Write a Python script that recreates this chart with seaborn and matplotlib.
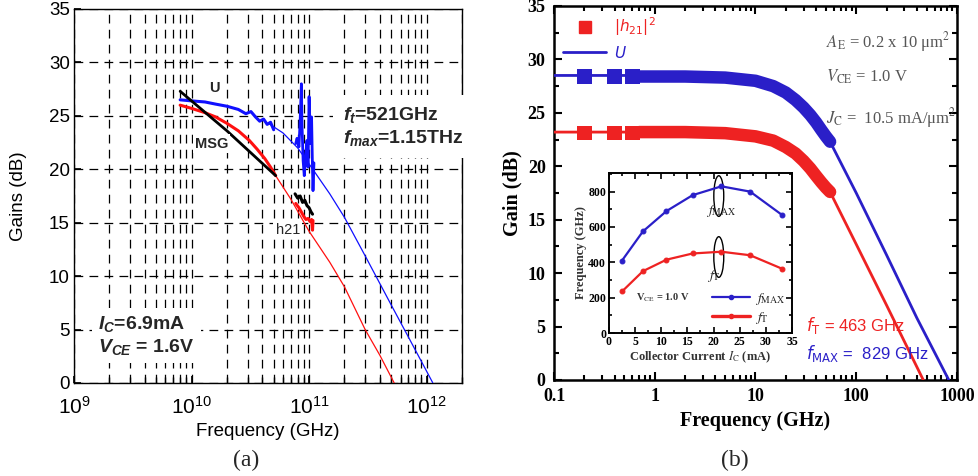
import numpy as np
import pandas as pd
import matplotlib.pyplot as plt
import seaborn as sns
from matplotlib.lines import Line2D
from matplotlib.patches import Ellipse
from matplotlib.ticker import (FixedLocator, FixedFormatter, LogLocator,
                               MultipleLocator, NullFormatter)

# ---------------- data, panel (a) (frequency in Hz) ----------------
u_meas_f = [8e9, 1e10, 1.3e10, 1.6e10, 2e10, 2.5e10, 2.9e10, 3.2e10, 3.5e10,
            3.8e10, 4.1e10, 4.4e10, 4.7e10, 5.0e10]
u_meas = [26.5, 26.4, 26.3, 26.1, 25.9, 25.6, 25.2, 25.4, 24.9,
          24.5, 24.7, 24.2, 24.4, 23.7]
u_spike_f = [7.7e10, 7.9e10, 8.2e10, 8.4e10, 8.6e10, 8.7e10, 8.9e10, 9.1e10,
             9.4e10, 9.6e10, 9.8e10, 1.0e11, 1.03e11, 1.05e11, 1.07e11,
             1.08e11, 1.1e11]
u_spike = [22.4, 22.9, 22.1, 24.6, 28.0, 24.3, 20.8, 19.4,
           21.5, 22.7, 20.2, 26.8, 22.4, 24.9, 19.9, 18.0, 20.6]
u_fit_f = [4.5e10, 6e10, 8e10, 1e11, 1.5e11, 2e11, 3e11, 5e11, 7e11, 1e12, 1.13e12]
u_fit = [24.3, 23.4, 22.0, 20.5, 17.7, 15.5, 11.9, 7.3, 4.3, 1.1, 0.0]

h_meas_f = [8e9, 1e10, 1.3e10, 1.6e10, 2e10, 2.5e10, 3.1e10, 3.6e10, 4.2e10,
            4.7e10, 5.2e10]
h_meas = [26.0, 25.7, 25.3, 24.9, 24.3, 23.6, 22.7, 21.9, 21.0, 20.2, 19.4]
h_spike_f = [7.7e10, 8.2e10, 8.6e10, 9e10, 9.4e10, 9.8e10, 1.02e11, 1.05e11,
             1.07e11, 1.08e11]
h_spike = [16.8, 16.4, 16.0, 15.6, 15.3, 15.4, 15.1, 15.3, 14.3, 15.2]
h_fit_f = [5.2e10, 7e10, 1e11, 1.5e11, 2e11, 3e11, 4e11, 5.3e11]
h_fit = [19.4, 17.2, 14.2, 11.3, 9.0, 5.0, 2.6, 0.0]

msg_f = [8e9, 2e10, 5.2e10]
msg = [27.3, 23.6, 19.4]
msg_spike_f = [7.6e10, 8e10, 8.4e10, 8.8e10, 9.2e10, 9.6e10, 1e11, 1.04e11, 1.07e11]
msg_spike = [17.7, 17.3, 17.5, 16.9, 17.1, 16.6, 16.4, 16.0, 15.8]

# ---------------- data, panel (b) (frequency in GHz) ----------------
sq_f = [0.2, 0.4, 0.6]
u_sq = [28.4, 28.4, 28.4]
h_sq = [23.1, 23.1, 23.1]
band_f = [0.7, 1, 2, 5, 10, 15, 20, 25, 30, 35, 40, 45, 50, 55]
u_band = [28.4, 28.4, 28.4, 28.3, 28.0, 27.5, 26.9, 26.2, 25.5, 24.8, 24.1, 23.4, 22.8, 22.3]
h_band = [23.2, 23.2, 23.2, 23.1, 22.8, 22.4, 21.8, 21.2, 20.5, 19.8, 19.1, 18.5, 18.0, 17.6]
u_line_f = [0.1, 0.7, 5, 10, 20, 30, 55, 100, 200, 400, 829]
u_line = [28.5, 28.5, 28.4, 28.1, 27.0, 25.6, 22.3, 17.5, 11.7, 5.8, 0.0]
h_line_f = [0.1, 0.7, 5, 10, 20, 30, 55, 100, 200, 463]
h_line = [23.2, 23.2, 23.1, 22.8, 21.8, 20.6, 17.6, 12.7, 7.0, 0.0]

# inset: fT / fMAX vs collector current
ic_ma = [2.5, 6.5, 11, 16, 21.5, 27, 33]
fmax_ghz = [410, 575, 690, 780, 830, 800, 670]
ft_ghz = [235, 350, 415, 450, 460, 440, 365]

BLUE_A = '#1010ff'
RED_A = '#ff1010'
BLUE_B = '#2a1fc8'
RED_B = '#ee2222'

sns.set_theme(style="white")
plt.rcParams['font.family'] = ['Liberation Sans', 'DejaVu Sans']
plt.rcParams['mathtext.fontset'] = 'custom'
plt.rcParams['mathtext.rm'] = 'Liberation Sans'
plt.rcParams['mathtext.it'] = 'Liberation Sans:italic:bold'
plt.rcParams['mathtext.bf'] = 'Liberation Sans:bold'

fig = plt.figure(figsize=(9.79, 4.76), dpi=100)
fig.patch.set_facecolor('white')

# =============================== panel (a) ===============================
axa = fig.add_axes([0.0756, 0.1954, 0.3963, 0.7857])
axa.set_xscale('log')

def line(ax, x, y, color, lw, z=3):
    sns.lineplot(x=x, y=y, ax=ax, color=color, lw=lw, sort=False,
                 estimator=None, zorder=z)

line(axa, u_fit_f, u_fit, BLUE_A, 0.9)
line(axa, h_fit_f, h_fit, RED_A, 0.9)
line(axa, u_meas_f, u_meas, BLUE_A, 2.2)
line(axa, u_spike_f, u_spike, BLUE_A, 2.0)
line(axa, h_meas_f, h_meas, RED_A, 2.2)
line(axa, h_spike_f, h_spike, RED_A, 2.2)
line(axa, msg_f, msg, 'black', 2.0, 4)
line(axa, msg_spike_f, msg_spike, 'black', 2.2, 4)

axa.set_xlim(1e9, 2e12)
axa.set_ylim(0, 35)
axa.yaxis.set_major_locator(MultipleLocator(5))
axa.xaxis.set_major_locator(LogLocator(base=10, numticks=10))
axa.xaxis.set_minor_locator(LogLocator(base=10, subs=np.arange(2, 10), numticks=30))
axa.xaxis.set_minor_formatter(NullFormatter())
grid_kw = dict(color='black', lw=0.9, linestyle=(0, (7, 5)))
axa.grid(True, which='major', axis='y', **grid_kw)
axa.grid(True, which='both', axis='x', **grid_kw)
axa.tick_params(which='both', direction='in', bottom=True, left=True,
                colors='black')
axa.tick_params(axis='y', labelsize=13.5, pad=3)
axa.tick_params(axis='x', labelsize=15, pad=9)
axa.tick_params(which='major', length=5)
axa.tick_params(which='minor', length=4)
for s in axa.spines.values():
    s.set_color('black')
    s.set_linewidth(1.0)
axa.set_xlabel('Frequency (GHz)', fontsize=13.5, color='black', labelpad=4)
axa.set_ylabel('Gains (dB)', fontsize=13.5, color='black', labelpad=16)

lab_box = dict(boxstyle='square,pad=0.15', fc='white', ec='none')
axa.text(1.57e10, 27.6, 'U', fontsize=10.5, fontweight='bold', ha='center',
         va='center', bbox=lab_box, zorder=5)
axa.text(1.48e10, 22.4, 'MSG', fontsize=10.5, fontweight='bold', ha='center',
         va='center', bbox=lab_box, zorder=5)
axa.text(6.6e10, 14.3, 'h21', fontsize=10.5, ha='center', va='center',
         bbox=lab_box, zorder=2)
axa.text(1.95e11, 24.0, '$f_t$=521GHz\n$f_{max}$=1.15THz', fontsize=14,
         fontweight='bold', ha='left', va='center', linespacing=1.25,
         bbox=dict(boxstyle='square,pad=0.5', fc='white', ec='none'),
         clip_on=False, zorder=6)
axa.text(1.6e9, 4.45, '$I_C$=6.9mA\n$V_{CE}$ = 1.6V', fontsize=14,
         fontweight='bold', ha='left', va='center', linespacing=1.2,
         bbox=dict(boxstyle='square,pad=0.3', fc='white', ec='none'), zorder=6)

# =============================== panel (b) ===============================
axb = fig.add_axes([0.5659, 0.2017, 0.4116, 0.7857])
axb.set_xscale('log')
line(axb, u_line_f, u_line, BLUE_B, 2.0)
line(axb, h_line_f, h_line, RED_B, 2.0)
line(axb, band_f, u_band, BLUE_B, 9)
line(axb, band_f, h_band, RED_B, 9)
sns.scatterplot(x=sq_f, y=u_sq, ax=axb, marker='s', s=110, color=BLUE_B,
                edgecolor='none', zorder=4)
sns.scatterplot(x=sq_f, y=h_sq, ax=axb, marker='s', s=110, color=RED_B,
                edgecolor='none', zorder=4)

axb.set_xlim(0.1, 1000)
axb.set_ylim(0, 35)
major_b = [0.1, 1, 10, 100, 1000]
axb.xaxis.set_major_locator(FixedLocator(major_b))
axb.xaxis.set_major_formatter(FixedFormatter(['0.1', '1', '10', '100', '1000']))
axb.xaxis.set_minor_locator(LogLocator(base=10, subs=np.arange(2, 10), numticks=30))
axb.xaxis.set_minor_formatter(NullFormatter())
axb.yaxis.set_major_locator(MultipleLocator(5))
axb.yaxis.set_minor_locator(MultipleLocator(2.5))
axb.tick_params(which='both', direction='in', top=True, bottom=True,
                left=True, right=True, colors='black', width=1.5)
axb.tick_params(which='major', length=6, labelsize=13, pad=6)
axb.tick_params(which='minor', length=3.5)
for t in axb.get_xticklabels() + axb.get_yticklabels():
    t.set_fontfamily('Liberation Serif')
    t.set_fontweight('bold')
for s in axb.spines.values():
    s.set_color('black')
    s.set_linewidth(1.8)
axb.set_xlabel('Frequency (GHz)', fontsize=14.5, fontweight='bold',
               family='Liberation Serif', color='black', labelpad=4)
axb.set_ylabel('Gain (dB)', fontsize=14.5, fontweight='bold',
               family='Liberation Serif', color='black', labelpad=4)

handles = [Line2D([], [], marker='s', color=RED_B, ls='none', ms=8),
           Line2D([], [], color=BLUE_B, lw=2)]
leg = axb.legend(handles, [r'$|h_{21}|^2$', r'$U$'], loc='upper left',
                 frameon=False, fontsize=11, labelcolor=[RED_B, BLUE_B],
                 handlelength=2.8, borderaxespad=0.2, handletextpad=0.5,
                 labelspacing=0.45)
for t in leg.get_texts():
    t.set_math_fontfamily('dejavusans')

serif_kw = dict(family='Liberation Serif', color='#555555', fontsize=12,
                math_fontfamily='stix', ha='left', va='center')
axb.text(0.675, 0.905, r'$A_{\rm E}$ = 0.2 x 10 μm$^2$', transform=axb.transAxes, **serif_kw)
axb.text(0.675, 0.81, r'$V_{\rm CE}$ = 1.0 V', transform=axb.transAxes, **serif_kw)
axb.text(0.675, 0.70, r'$J_{\rm C}$ =  10.5 mA/μm$^2$', transform=axb.transAxes, **serif_kw)
axb.text(0.625, 0.145, r'$f_{\rm T}$ = 463 GHz', transform=axb.transAxes,
         color=RED_B, fontsize=12, math_fontfamily='dejavusans', ha='left', va='center')
axb.text(0.625, 0.07, r'$f_{\rm MAX}$ =  829 GHz', transform=axb.transAxes,
         color=BLUE_B, fontsize=12, math_fontfamily='dejavusans', ha='left', va='center')

# ------------------------------- inset -------------------------------
axi = fig.add_axes([0.622, 0.3004, 0.187, 0.336])
sns.lineplot(x=ic_ma, y=fmax_ghz, ax=axi, color=BLUE_B, lw=1.6, marker='o',
             markersize=3.5, markeredgecolor=BLUE_B, sort=False, estimator=None)
sns.lineplot(x=ic_ma, y=ft_ghz, ax=axi, color=RED_B, lw=1.6, marker='o',
             markersize=3.5, markeredgecolor=RED_B, sort=False, estimator=None)
axi.set_xlim(0, 35)
axi.set_ylim(0, 905)
axi.xaxis.set_major_locator(MultipleLocator(5))
axi.xaxis.set_minor_locator(MultipleLocator(2.5))
axi.yaxis.set_major_locator(MultipleLocator(200))
axi.yaxis.set_minor_locator(MultipleLocator(100))
axi.tick_params(which='both', direction='in', top=True, bottom=True,
                left=True, right=True, colors='black', width=1.2)
axi.tick_params(which='major', length=4, labelsize=8.5, pad=2)
axi.tick_params(which='minor', length=2)
for t in axi.get_xticklabels() + axi.get_yticklabels():
    t.set_fontfamily('Liberation Serif')
    t.set_fontweight('bold')
for s in axi.spines.values():
    s.set_color('black')
    s.set_linewidth(1.4)
axi.set_xlabel(r'Collector Current $I_{\rm C}$ (mA)', fontsize=9, fontweight='bold',
               family='Liberation Serif', math_fontfamily='stix', color='#333333',
               labelpad=1)
axi.set_ylabel('Frequency (GHz)', fontsize=9, fontweight='bold',
               family='Liberation Serif', color='#333333', labelpad=1)
axi.add_patch(Ellipse((21.0, 775), 1.9, 230, fc='none', ec='black', lw=1.0))
axi.add_patch(Ellipse((21.0, 430), 1.9, 230, fc='none', ec='black', lw=1.0))
axi.text(18.6, 690, r'$f_{\rm MAX}$', fontsize=10, math_fontfamily='stix',
         color='#222222', ha='left', va='center')
axi.text(18.8, 325, r'$f_{\rm T}$', fontsize=10, math_fontfamily='stix',
         color='#222222', ha='left', va='center')
axi.text(5.2, 200, r'V$_{\rm CE}$ = 1.0 V', fontsize=7.5, fontweight='bold',
         family='Liberation Serif', math_fontfamily='stix', color='#333333',
         ha='left', va='center')
ileg = axi.legend([Line2D([], [], color=BLUE_B, lw=1.6, marker='o', ms=3),
                   Line2D([], [], color=RED_B, lw=2.4, marker='o', ms=3)],
                  [r'$f_{\rm MAX}$', r'$f_{\rm T}$'], loc='lower right',
                  frameon=False, fontsize=10, handlelength=2.8,
                  borderaxespad=0.1, labelspacing=0.2, handletextpad=0.3)
for t in ileg.get_texts():
    t.set_math_fontfamily('stix')

# panel captions
fig.text(0.251, 0.032, '(a)', fontsize=17, family='Liberation Serif',
         ha='center', va='center')
fig.text(0.751, 0.032, '(b)', fontsize=17, family='Liberation Serif',
         ha='center', va='center')

fig.savefig('out.png', dpi=100, facecolor='white')
